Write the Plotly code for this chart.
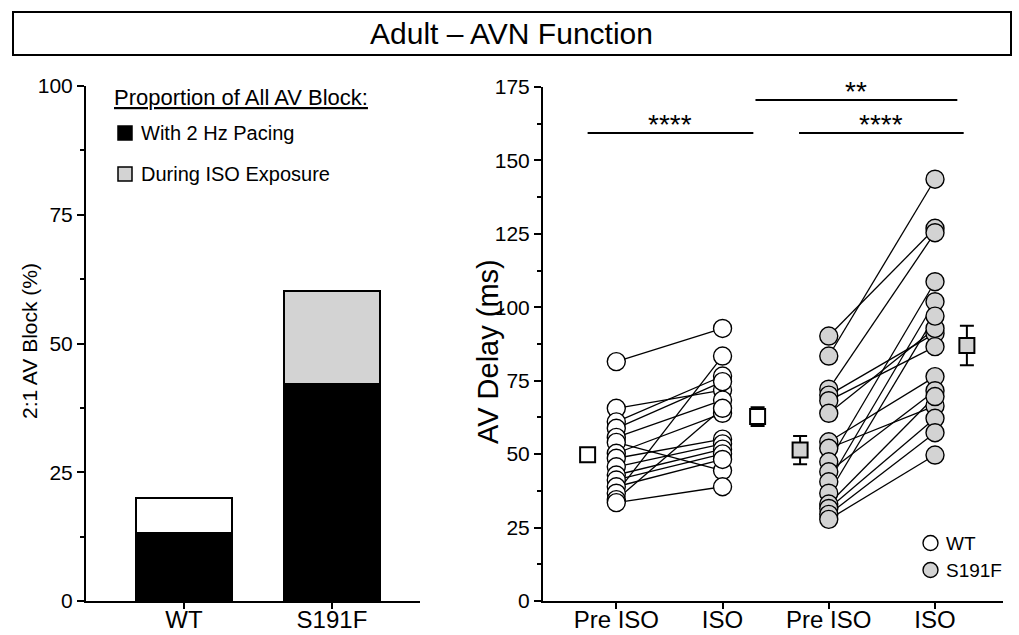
import plotly.graph_objects as go

W, H = 1019, 635
FONT = "Arial, Liberation Sans, sans-serif"

# ---------------- data ----------------
bar_categories = ["WT", "S191F"]
pacing_block = [13.3, 42.2]          # With 2 Hz pacing (black)
iso_block = [6.7, 17.9]              # During ISO exposure (stacked on top)
iso_colors = ["white", "#d3d3d3"]

group_labels = ["Pre ISO", "ISO", "Pre ISO", "ISO"]
wt_pre = [81.5, 65.6, 61.0, 58.8, 55.7, 54.0, 50.3, 48.6, 45.7, 42.9, 41.2, 38.9, 36.7, 34.5, 33.5]
wt_iso = [92.8, 71.8, 76.6, 74.7, 68.4, 44.4, 63.9, 55.1, 53.5, 51.7, 50.1, 48.2, 83.4, 65.6, 38.9]
s_pre = [90.2, 83.4, 72.1, 70.1, 68.2, 63.9, 54.2, 52.0, 47.4, 44.0, 40.6, 36.7, 33.0, 31.5, 29.5, 27.8]
s_iso = [126.9, 143.6, 125.4, 91.1, 86.6, 92.8, 76.4, 66.4, 108.7, 71.6, 101.9, 97.0, 69.6, 62.2, 57.3, 49.7]

mean_vals = [49.8, 62.8, 51.4, 87.0]
sem_vals = [2.0, 3.2, 4.8, 6.7]

sig_labels = ["****", "**", "****"]


def px(x):
    return x / W


def py(y):
    return 1 - y / H


fig = go.Figure()

# ---------------- left: stacked bars ----------------
fig.add_trace(go.Bar(x=[0, 1], y=pacing_block, width=0.65,
                     marker=dict(color="black", line=dict(color="black", width=2)),
                     xaxis="x", yaxis="y", showlegend=False))
fig.add_trace(go.Bar(x=[0, 1], y=iso_block, width=0.65,
                     marker=dict(color=iso_colors, line=dict(color="black", width=2)),
                     xaxis="x", yaxis="y", showlegend=False))

# ---------------- right: paired lines ----------------
def paired(pre, post, x0, x1):
    xs, ys = [], []
    for a, b in zip(pre, post):
        xs += [x0, x1, None]
        ys += [a, b, None]
    return xs, ys


for pre, post, x0, x1 in [(wt_pre, wt_iso, 1, 2), (s_pre, s_iso, 3, 4)]:
    xs, ys = paired(pre, post, x0, x1)
    fig.add_trace(go.Scatter(x=xs, y=ys, mode="lines", line=dict(color="black", width=1.3),
                             xaxis="x2", yaxis="y2", showlegend=False, hoverinfo="skip"))

for pre, post, x0, x1, col in [(wt_pre, wt_iso, 1, 2, "white"), (s_pre, s_iso, 3, 4, "#d3d3d3")]:
    fig.add_trace(go.Scatter(x=[x0] * len(pre) + [x1] * len(post), y=pre + post, mode="markers",
                             marker=dict(symbol="circle", size=18, color=col,
                                         line=dict(color="black", width=1.4)),
                             xaxis="x2", yaxis="y2", showlegend=False))

# mean +/- SEM squares
mean_offsets = [-0.27, 0.33, -0.27, 0.30]
mean_x = [i + 1 + o for i, o in enumerate(mean_offsets)]
mean_colors = ["white", "white", "#d3d3d3", "#d3d3d3"]
fig.add_trace(go.Scatter(x=mean_x, y=mean_vals, mode="markers",
                         error_y=dict(type="data", array=sem_vals, width=7, thickness=2, color="black"),
                         marker=dict(symbol="square", size=15, color=mean_colors,
                                     line=dict(color="black", width=2)),
                         xaxis="x2", yaxis="y2", showlegend=False))

# ---------------- axes ----------------
axis_common = dict(showline=True, linecolor="black", linewidth=2, showgrid=False, zeroline=False,
                   ticks="outside", tickcolor="black", tickwidth=2, ticklen=7, automargin=False,
                   tickfont=dict(family=FONT, size=21, color="black"))

shapes = []
annotations = []

fig.update_layout(
    width=W, height=H, margin=dict(l=0, r=0, t=0, b=0, autoexpand=False),
    paper_bgcolor="white", plot_bgcolor="white",
    barmode="stack", showlegend=False,
    xaxis=dict(axis_common, domain=[px(86), px(420)], range=[-0.662, 1.595],
               tickvals=[0, 1], ticktext=bar_categories, anchor="y", ticklen=6,
               ticklabelstandoff=-10,
               tickfont=dict(family=FONT, size=24, color="black")),
    yaxis=dict(axis_common, domain=[py(601), py(86)], range=[0, 100],
               tickvals=[0, 25, 50, 75, 100], anchor="x",
               minor=dict(dtick=12.5, ticks="outside", ticklen=4, tickcolor="black", tickwidth=2)),
    xaxis2=dict(axis_common, domain=[px(543), px(1003)], range=[0.31, 4.64],
                tickvals=[1, 2, 3, 4], ticktext=group_labels, anchor="y2", ticklen=6,
                ticklabelstandoff=-10,
                tickfont=dict(family=FONT, size=24, color="black")),
    yaxis2=dict(axis_common, domain=[py(601), py(87)], range=[0, 175],
                tickvals=[0, 25, 50, 75, 100, 125, 150, 175], anchor="x2",
                minor=dict(dtick=12.5, ticks="outside", ticklen=4, tickcolor="black", tickwidth=2)),
)


def label(text, x, y, size, xanchor="center", angle=0, xref="paper", yref="paper"):
    return dict(text=text, x=x, y=y, xref=xref, yref=yref, xanchor=xanchor, yanchor="middle",
                textangle=angle, showarrow=False, font=dict(family=FONT, size=size, color="black"))


# axis titles
annotations.append(label("2:1 AV Block (%)", px(29), py(341), 21, angle=-90))
annotations.append(label("AV Delay (ms)", px(488), py(352), 29, angle=-90))

# title box
shapes.append(dict(type="rect", xref="paper", yref="paper", x0=px(13), x1=px(1011), y0=py(55), y1=py(12),
                   line=dict(color="black", width=2)))
annotations.append(label("Adult – AVN Function", px(512), py(33), 30))

# left legend
annotations.append(label("<u>Proportion of All AV Block:</u>", px(112), py(98), 22, xanchor="left"))
for yy, col, lab in [(133, "black", "With 2 Hz Pacing"), (174, "#d3d3d3", "During ISO Exposure")]:
    shapes.append(dict(type="rect", xref="paper", yref="paper", x0=px(118), x1=px(132),
                       y0=py(yy + 7), y1=py(yy - 7), fillcolor=col, line=dict(color="black", width=1.5)))
    annotations.append(label(lab, px(139), py(yy), 20, xanchor="left"))

# right legend
for yy, col, lab in [(543, "white", "WT"), (570, "#d3d3d3", "S191F")]:
    shapes.append(dict(type="circle", xref="paper", yref="paper", x0=px(923), x1=px(938),
                       y0=py(yy + 7.5), y1=py(yy - 7.5), fillcolor=col, line=dict(color="black", width=1.4)))
    annotations.append(label(lab, px(944), py(yy), 19, xanchor="left"))

# significance bars
sig_lines = [(0.73, 2.29, 159.3), (2.31, 4.21, 170.6), (2.72, 4.27, 159.3)]
for (x0, x1, yv), lab in zip(sig_lines, sig_labels):
    shapes.append(dict(type="line", xref="x2", yref="y2", x0=x0, x1=x1, y0=yv, y1=yv,
                       line=dict(color="black", width=2)))
    annotations.append(dict(text=lab, x=(x0 + x1) / 2, y=yv, xref="x2", yref="y2", xanchor="center",
                            yanchor="bottom", showarrow=False, yshift=-9,
                            font=dict(family=FONT, size=28, color="black")))

fig.update_layout(shapes=shapes, annotations=annotations)

fig.write_html("out.html")
